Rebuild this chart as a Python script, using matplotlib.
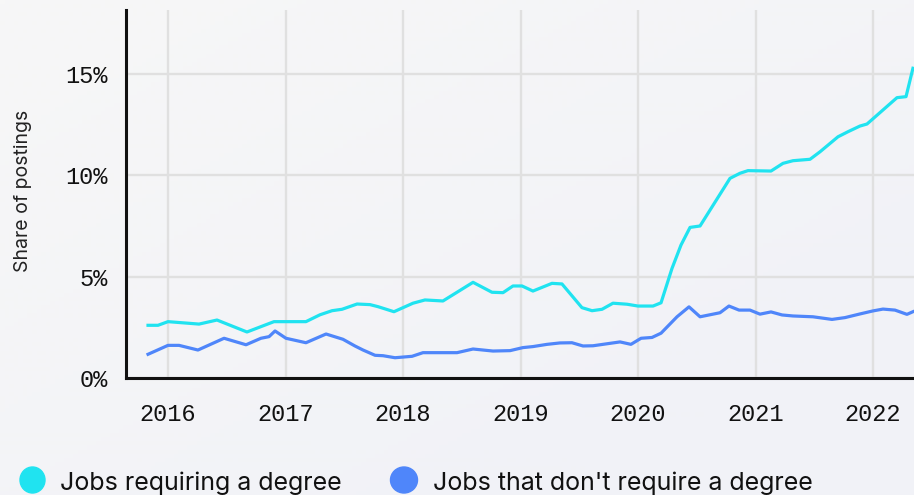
import matplotlib
matplotlib.use("Agg")
import matplotlib.pyplot as plt
import numpy as np
from matplotlib.patches import Ellipse

# ---- data (decimal years, share of postings in %) ----
deg_x = [2015.830, 2015.915, 2016.000, 2016.264, 2016.417, 2016.672, 2016.902, 2017.174,
         2017.294, 2017.396, 2017.481, 2017.609, 2017.719, 2017.787, 2017.923, 2018.085,
         2018.187, 2018.340, 2018.596, 2018.757, 2018.851, 2018.936, 2019.013, 2019.106,
         2019.268, 2019.353, 2019.523, 2019.609, 2019.694, 2019.787, 2019.906, 2020.000,
         2020.128, 2020.196, 2020.289, 2020.366, 2020.443, 2020.528, 2020.783, 2020.868,
         2020.936, 2021.132, 2021.234, 2021.319, 2021.464, 2021.549, 2021.702, 2021.787,
         2021.889, 2021.949, 2022.204, 2022.281, 2022.340]
deg_y = [2.60, 2.60, 2.78, 2.66, 2.86, 2.27, 2.78, 2.78,
         3.12, 3.32, 3.39, 3.65, 3.62, 3.52, 3.27, 3.69,
         3.85, 3.80, 4.72, 4.23, 4.21, 4.54, 4.54, 4.29,
         4.67, 4.64, 3.47, 3.32, 3.39, 3.69, 3.64, 3.55,
         3.55, 3.71, 5.40, 6.56, 7.43, 7.50, 9.85, 10.10,
         10.23, 10.21, 10.59, 10.72, 10.79, 11.16, 11.90, 12.15,
         12.43, 12.53, 13.83, 13.88, 15.28]

nodeg_x = [2015.830, 2016.000, 2016.094, 2016.255, 2016.477, 2016.664, 2016.791, 2016.860,
           2016.911, 2017.004, 2017.174, 2017.345, 2017.489, 2017.591, 2017.660, 2017.762,
           2017.830, 2017.932, 2018.077, 2018.170, 2018.460, 2018.596, 2018.766, 2018.911,
           2019.021, 2019.106, 2019.226, 2019.336, 2019.438, 2019.532, 2019.617, 2019.762,
           2019.847, 2019.940, 2020.026, 2020.119, 2020.196, 2020.332, 2020.434, 2020.528,
           2020.698, 2020.774, 2020.860, 2020.953, 2021.038, 2021.132, 2021.226, 2021.319,
           2021.489, 2021.651, 2021.762, 2021.889, 2022.000, 2022.085, 2022.187, 2022.289,
           2022.340]
nodeg_y = [1.17, 1.61, 1.61, 1.38, 1.96, 1.64, 1.96, 2.04,
           2.32, 1.96, 1.74, 2.17, 1.91, 1.58, 1.38, 1.12,
           1.10, 1.00, 1.07, 1.25, 1.25, 1.43, 1.33, 1.35,
           1.50, 1.55, 1.66, 1.73, 1.74, 1.58, 1.59, 1.71,
           1.78, 1.66, 1.96, 2.00, 2.21, 3.02, 3.51, 3.02,
           3.22, 3.55, 3.35, 3.35, 3.15, 3.26, 3.11, 3.06,
           3.02, 2.89, 2.98, 3.16, 3.31, 3.40, 3.35, 3.14,
           3.27]

year_ticks = [2016, 2017, 2018, 2019, 2020, 2021, 2022]
pct_ticks = [0, 5, 10, 15]
series_names = ["Jobs requiring a degree", "Jobs that don't require a degree"]
series_colors = ["#20E3F0", "#4F86FA"]

W, H = 914, 495
fig = plt.figure(figsize=(W / 100, H / 100), dpi=100)

# background gradient
bg = fig.add_axes([0, 0, 1, 1], zorder=-10)
gx, gy = np.meshgrid(np.linspace(0, 1, 200), np.linspace(0, 1, 120))
t = np.clip((gx * 0.6 + gy * 0.6), 0, 1)
c0 = np.array([247, 247, 247]) / 255
c1 = np.array([241, 242, 247]) / 255
img = c0[None, None, :] * (1 - t[..., None]) + c1[None, None, :] * t[..., None]
bg.imshow(img, aspect="auto", extent=[0, 1, 0, 1], origin="upper")
bg.axis("off")

left, right, top, bottom = 126, 914, 10, 378
ax = fig.add_axes([left / W, 1 - bottom / H, (right - left) / W, (bottom - top) / H])
ax.patch.set_alpha(0)

ax.plot(deg_x, deg_y, color=series_colors[0], lw=2.3, solid_joinstyle="round", zorder=3, clip_on=True)
ax.plot(nodeg_x, nodeg_y, color=series_colors[1], lw=2.3, solid_joinstyle="round", zorder=3, clip_on=True)

ax.set_xlim(2016 - 42 / 117.5, 2016 + (914 - 168) / 117.5)
ax.set_ylim(0, (378 - 10) / 20.27)
ax.set_xticks(year_ticks)
ax.set_xticklabels([str(y) for y in year_ticks])
ax.set_yticks(pct_ticks)
ax.set_yticklabels([f"{p}%" for p in pct_ticks])
ax.grid(True, color="#E0E0E0", lw=1.7, zorder=0)
ax.set_axisbelow(True)
for s in ["top", "right"]:
    ax.spines[s].set_visible(False)
for s in ["left", "bottom"]:
    ax.spines[s].set_color("#111111")
    ax.spines[s].set_linewidth(2.2)
    ax.spines[s].set_zorder(4)
ax.tick_params(axis="both", length=0, labelsize=17, labelcolor="#111111")
ax.tick_params(axis="y", pad=13)
ax.tick_params(axis="x", pad=18)
for lab in ax.get_xticklabels() + ax.get_yticklabels():
    lab.set_fontfamily("Liberation Mono")

fig.text(23 / W, 1 - 191 / H, "Share of postings", rotation=90, ha="center", va="center",
         fontsize=14, family="Inter", color="#222222")

# legend overlay
ov = fig.add_axes([0, 0, 1, 1], zorder=5)
ov.set_xlim(0, W)
ov.set_ylim(H, 0)
ov.axis("off")
ov.add_patch(Ellipse((32.5, 480), 25, 26, color=series_colors[0], clip_on=False))
ov.text(60, 490, series_names[0], fontsize=18, family="Inter", color="#111111", va="baseline", ha="left")
ov.add_patch(Ellipse((404, 480), 27, 26, color=series_colors[1], clip_on=False))
ov.text(433, 490, series_names[1], fontsize=18, family="Inter", color="#111111", va="baseline", ha="left")

fig.savefig("out.png", dpi=100)
